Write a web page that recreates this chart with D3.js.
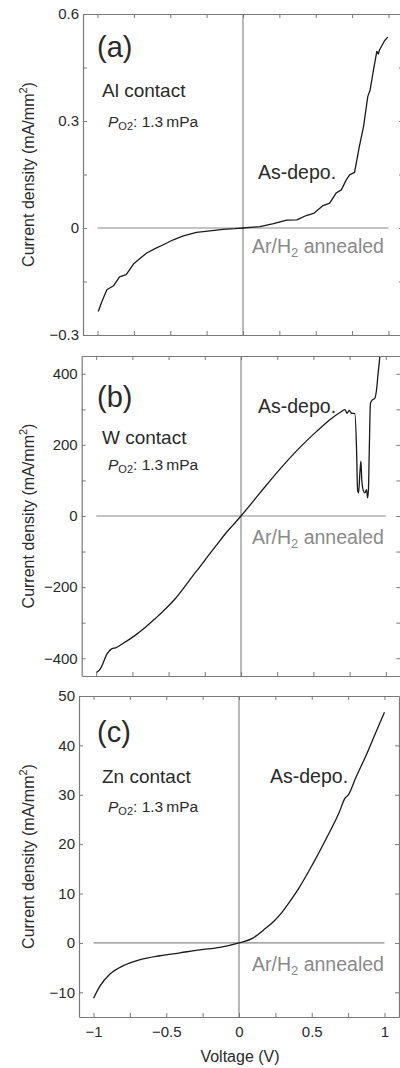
<!DOCTYPE html>
<html><head><meta charset="utf-8">
<script src="https://cdn.jsdelivr.net/npm/d3@7/dist/d3.min.js"></script>
<style>
html,body{margin:0;padding:0;background:#fff;}
svg{display:block;font-family:"Liberation Sans",Arial,Helvetica,sans-serif;}
</style></head>
<body>
<svg id="chart" width="400" height="1068"></svg>
<script>
// ---------- data ----------
const voltsA = [-0.995,-0.97,-0.936,-0.89,-0.849,-0.803,-0.753,-0.719,-0.662,-0.605,-0.548,-0.479,-0.41,-0.32,-0.228,-0.137,-0.057,0,0.116,0.21,0.30,0.37,0.435,0.49,0.55,0.596,0.64,0.676,0.71,0.733,0.767,0.80,0.829,0.858,0.874,0.897,0.92,0.93,0.938,0.957,0.973,0.995];
const currA  = [-0.234,-0.206,-0.173,-0.162,-0.137,-0.131,-0.101,-0.089,-0.070,-0.058,-0.047,-0.033,-0.022,-0.012,-0.008,-0.004,-0.002,0,0.004,0.012,0.022,0.023,0.035,0.042,0.063,0.070,0.098,0.107,0.135,0.149,0.156,0.229,0.285,0.369,0.387,0.443,0.495,0.488,0.499,0.513,0.525,0.535];

const voltsB = [-1.0,-0.97,-0.924,-0.89,-0.867,-0.821,-0.729,-0.66,-0.591,-0.52,-0.453,-0.395,-0.338,-0.28,-0.223,-0.165,-0.108,-0.054,0,0.131,0.269,0.407,0.522,0.614,0.683,0.717,0.733,0.747,0.763,0.786,0.798,0.805,0.812,0.821,0.828,0.834,0.843,0.855,0.867,0.874,0.88,0.885,0.894,0.908,0.924,0.936,0.947,0.959];
const currB  = [-441,-429,-387,-373,-371,-360,-335,-313,-288,-261,-232,-202,-171,-141,-110,-80,-50,-25,0,65,132,193,238,271,291,299,289,297,289,288,187,74,65,121,154,102,74,65,74,51,74,168,317,327,331,355,402,449];

const voltsC = [-1.0,-0.955,-0.887,-0.795,-0.68,-0.543,-0.405,-0.268,-0.131,0,0.092,0.183,0.24,0.298,0.355,0.412,0.504,0.596,0.687,0.729,0.752,0.802,0.871,0.939,1.0];
const currC  = [-11.2,-8.7,-6.3,-4.6,-3.4,-2.6,-2.0,-1.4,-0.9,0,0.93,2.96,4.4,6.3,8.6,11.1,15.8,20.9,26.3,29.3,30.0,33.4,37.8,42.5,46.7];

// Ar/H2 annealed (current ~ 0 over the sweep)
const voltsAnn = [-1, -0.5, 0, 0.5, 1];
const currAnn  = [0, 0, 0, 0, 0];

const xDomain = [-1.1, 1.1];
const xTicks = [-1,-0.75,-0.5,-0.25,0,0.25,0.5,0.75,1];
const xTickLabels = {"-1":"\u22121","-0.5":"\u22120.5","0":"0","0.5":"0.5","1":"1"};

const yDomainA = [-0.3, 0.6];
const yTicksA = [-0.3,-0.15,0,0.15,0.3,0.45,0.6];
const yLabelsA = {"-0.3":"\u22120.3","0":"0","0.3":"0.3","0.6":"0.6"};

const yDomainB = [-450, 450];
const yTicksB = [-400,-300,-200,-100,0,100,200,300,400];
const yLabelsB = {"-400":"\u2212400","-200":"\u2212200","0":"0","200":"200","400":"400"};

const yDomainC = [-15, 50];
const yTicksC = [-10,0,10,20,30,40,50];
const yLabelsC = {"-10":"\u221210","0":"0","10":"10","20":"20","30":"30","40":"40","50":"50"};

const panelLetters = ["(a)","(b)","(c)"];
const metals = ["Al contact","W contact","Zn contact"];

// ---------- layout ----------
const panels = [
  {left:83, right:403, top:14, bottom:335, xd:xDomain, yd:yDomainA, yt:yTicksA, yl:yLabelsA, v:voltsA, c:currA,
   letter:[97,57], metal:[102,96.5], po2:[108,127], asd:[258,178.5], ann:[252,253], xlabels:false, curve:d3.curveLinear},
  {left:81.7, right:400.3, top:356, bottom:676, xd:xDomain, yd:yDomainB, yt:yTicksB, yl:yLabelsB, v:voltsB, c:currB,
   letter:[97,407], metal:[102,443.5], po2:[108,470], asd:[258,412.5], ann:[252,543.5], xlabels:false, curve:d3.curveMonotoneX},
  {left:79, right:399, top:696, bottom:1017, xd:xDomain, yd:yDomainC, yt:yTicksC, yl:yLabelsC, v:voltsC, c:currC,
   letter:[97,742], metal:[102,782.5], po2:[108,812], asd:[270,782.5], ann:[252,971], xlabels:true, curve:d3.curveMonotoneX}
];

const svg = d3.select("#chart");
const axisColor = "#7a7a7a";
const textColor = "#2a2a2a";

panels.forEach((p, i) => {
  const x = d3.scaleLinear().domain(p.xd).range([p.left, p.right]);
  const y = d3.scaleLinear().domain(p.yd).range([p.bottom, p.top]);
  const g = svg.append("g");

  const clipId = "clip" + i;
  svg.append("clipPath").attr("id", clipId).append("rect")
    .attr("x", p.left).attr("y", p.top).attr("width", p.right - p.left).attr("height", p.bottom - p.top);

  // zero line (vertical)
  g.append("line").attr("x1", x(0)).attr("x2", x(0)).attr("y1", p.top).attr("y2", p.bottom)
    .attr("stroke", "#8a8a8a").attr("stroke-width", 1.2);

  // annealed curve (~0)
  g.append("path").datum(voltsAnn.map((v, k) => [v, currAnn[k]]))
    .attr("fill", "none").attr("stroke", "#8a8a8a").attr("stroke-width", 1.2)
    .attr("d", d3.line().x(d => x(d[0])).y(d => y(d[1])));

  // as-deposited curve
  g.append("path").datum(p.v.map((v, k) => [v, p.c[k]]))
    .attr("clip-path", `url(#${clipId})`)
    .attr("fill", "none").attr("stroke", "#1a1a1a").attr("stroke-width", 1.3).attr("stroke-linejoin", "round")
    .attr("d", d3.line().curve(p.curve).x(d => x(d[0])).y(d => y(d[1])));

  // axes
  const styleAxis = sel => {
    sel.selectAll("path").attr("stroke", axisColor).attr("stroke-width", 1.2);
    sel.selectAll("line").attr("stroke", axisColor).attr("stroke-width", 1);
    sel.selectAll("text").attr("fill", textColor).attr("font-size", 15)
      .attr("font-family", '"Liberation Sans",Arial,sans-serif');
  };
  g.append("g").attr("transform", `translate(${p.left},0)`)
    .call(d3.axisLeft(y).tickValues(p.yt).tickSize(-4).tickSizeOuter(0).tickPadding(4)
      .tickFormat(d => p.yl[String(d)] || ""))
    .call(styleAxis);
  g.append("g").attr("transform", `translate(${p.right},0)`)
    .call(d3.axisRight(y).tickValues(p.yt).tickSize(-4).tickSizeOuter(0).tickFormat(""))
    .call(styleAxis);
  g.append("g").attr("transform", `translate(0,${p.top})`)
    .call(d3.axisTop(x).tickValues(xTicks).tickSize(-4).tickSizeOuter(0).tickFormat(""))
    .call(styleAxis);
  const bx = g.append("g").attr("transform", `translate(0,${p.bottom})`)
    .call(d3.axisBottom(x).tickValues(xTicks).tickSize(-4).tickSizeOuter(0).tickPadding(6)
      .tickFormat(d => p.xlabels ? (xTickLabels[String(d)] || "") : ""))
    .call(styleAxis);
  bx.selectAll("text").attr("dy", "0.95em");

  // annotations
  g.append("text").attr("x", p.letter[0]).attr("y", p.letter[1]).attr("font-size", 29)
    .attr("fill", textColor).text(panelLetters[i]);
  g.append("text").attr("x", p.metal[0]).attr("y", p.metal[1]).attr("font-size", 19)
    .attr("fill", textColor).text(metals[i]);
  const po = g.append("text").attr("x", p.po2[0]).attr("y", p.po2[1]).attr("font-size", 15.5).attr("fill", textColor);
  po.append("tspan").attr("font-style", "italic").text("P");
  po.append("tspan").attr("font-size", 11).attr("dy", 3).text("O2");
  po.append("tspan").attr("dy", -3).text(": 1.3\u2009mPa");
  g.append("text").attr("x", p.asd[0]).attr("y", p.asd[1]).attr("font-size", 19.5)
    .attr("fill", textColor).text("As-depo.");
  const an = g.append("text").attr("x", p.ann[0]).attr("y", p.ann[1]).attr("font-size", 19.5).attr("fill", "#8a8a8a");
  an.append("tspan").text("Ar/H");
  an.append("tspan").attr("font-size", 13).attr("dy", 4).text("2");
  an.append("tspan").attr("dy", -4).text(" annealed");

  // y-axis title
  const yt = g.append("text")
    .attr("transform", `translate(34,${(p.top + p.bottom) / 2}) rotate(-90)`)
    .attr("text-anchor", "middle").attr("font-size", 16).attr("fill", textColor);
  yt.append("tspan").text("Current density (mA/mm");
  yt.append("tspan").attr("font-size", 11).attr("dy", -7).text("2");
  yt.append("tspan").attr("dy", 7).text(")");
});

// x-axis title
svg.append("text").attr("x", 240).attr("y", 1062).attr("text-anchor", "middle")
  .attr("font-size", 16).attr("fill", textColor).text("Voltage (V)");
</script>
</body></html>
